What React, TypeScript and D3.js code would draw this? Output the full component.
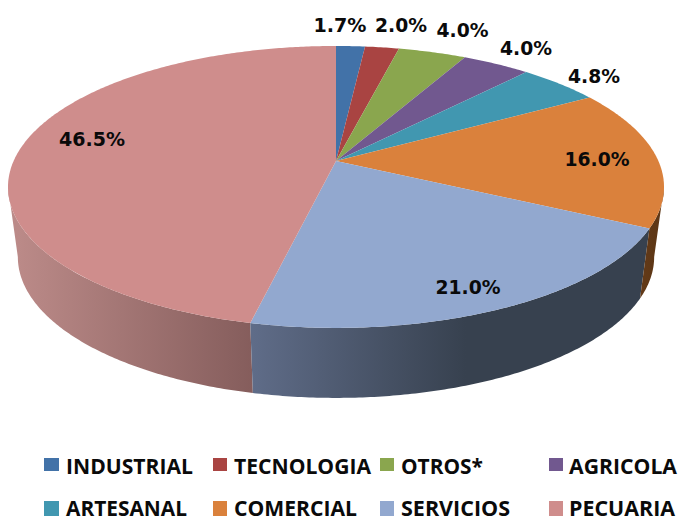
import React from "react";
import * as d3 from "d3";

const categories = ["INDUSTRIAL", "TECNOLOGIA", "OTROS*", "AGRICOLA", "ARTESANAL", "COMERCIAL", "SERVICIOS", "PECUARIA"];
const values = [1.7, 2.0, 4.0, 4.0, 4.8, 16.0, 21.0, 46.5];
const colors = ["#4272a8", "#a94442", "#8aa64e", "#71588f", "#4197b0", "#da813c", "#92a8cf", "#cf8d8c"];
const sideStops = [
  ["#2e4f75", "#2e4f75"], ["#763030", "#763030"], ["#607436", "#607436"], ["#4f3d64", "#4f3d64"],
  ["#2d697b", "#2d697b"], ["#5e3716", "#643a18"], ["#5f6c88", "#37414f"], ["#bb8a88", "#855d5c"],
];
const labelPos = [[340, 32], [401, 32], [462.5, 37], [526, 55], [594, 83], [597, 166], [468, 294], [92, 146]];
const labelWidth = [53, 52, 52, 52, 52, 65, 65, 66];
const legendX = [44, 213, 380, 549];
const legendTextX = [66, 234, 401, 569];
const legendBaseline = [474, 516];
const legendRectY = [458, 501];
const legendRectH = [13, 15];
const legendTextW = [127, 137, 82, 108, 121, 123, 109, 106];

const W = 679, H = 519;
const cx = 336, cy = 161, B = 322.4, A = 136.2, p = 0.184, depth = 70, shrink = 0.97;

const topPoint = (t: number): [number, number] => {
  const u = Math.sin(t), v = -Math.cos(t), w = 1 - p * v;
  return [cx + (B * u) / w, cy + (A * v) / w];
};
const botPoint = (t: number): [number, number] => {
  const [x, y] = topPoint(t);
  return [cx + (x - cx) * shrink, y + depth];
};
const sample = (a: number, b: number) => {
  const n = Math.max(2, Math.ceil(Math.abs(b - a) / 0.01));
  return d3.range(n + 1).map((i) => a + ((b - a) * i) / n);
};

export default function App() {
  const arcs = d3.pie<number>().sort(null)(values);
  const line = d3.line();
  const tau = 2 * Math.PI;
  const order = [7, 6, 5];
  const edge = Math.acos(-p);
  return (
    <svg width={W} height={H} style={{ position: "absolute", left: 0, top: 0, background: "#fff" }}>
      <defs>
        {order.map((i) => {
          const a = arcs[i];
          const s0 = Math.max(a.startAngle, edge), s1 = Math.min(a.endAngle, tau - edge);
          const xs = sample(s0, s1).map((t) => botPoint(t)[0]);
          const x0 = i === 7 ? d3.min(xs)! : d3.max(xs)!;
          const x1 = i === 7 ? d3.max(xs)! : d3.min(xs)!;
          return (
            <linearGradient key={i} id={`side${i}`} gradientUnits="userSpaceOnUse" x1={x0} x2={x1} y1={0} y2={0}>
              {i === 6 ? (
                <>
                  <stop offset="0" stopColor={sideStops[i][1]} />
                  <stop offset="0.45" stopColor={sideStops[i][1]} />
                  <stop offset="1" stopColor={sideStops[i][0]} />
                </>
              ) : (
                <>
                  <stop offset="0" stopColor={sideStops[i][0]} />
                  <stop offset="1" stopColor={sideStops[i][1]} />
                </>
              )}
            </linearGradient>
          );
        })}
      </defs>
      {order.map((i) => {
        const a = arcs[i];
        const s0 = Math.max(a.startAngle, edge), s1 = Math.min(a.endAngle, tau - edge);
        const ts = sample(s0, s1);
        const pts = [...ts.map(topPoint), ...ts.slice().reverse().map(botPoint)];
        return <path key={i} d={line(pts)! + "Z"} fill={`url(#side${i})`} />;
      })}
      {arcs.map((a, i) => {
        const ts = sample(a.startAngle, Math.min(a.endAngle, tau));
        const pts: [number, number][] = [[cx, cy], ...ts.map(topPoint)];
        return <path key={i} d={line(pts)! + "Z"} fill={colors[i]} />;
      })}
      {values.map((v, i) => (
        <text key={i} x={labelPos[i][0] - labelWidth[i] / 2} y={labelPos[i][1]}
          fontFamily="'DejaVu Sans'" fontWeight={700} fontSize={19.5} fill="#0a0a0a"
          textLength={labelWidth[i]} lengthAdjust="spacingAndGlyphs">
          {v.toFixed(1)}%
        </text>
      ))}
      {categories.map((c, i) => {
        const col = i % 4, row = Math.floor(i / 4);
        return (
          <g key={c}>
            <rect x={legendX[col]} y={legendRectY[row]} width={col === 0 ? 15 : 14} height={legendRectH[row]} fill={colors[i]} />
            <text x={legendTextX[col]} y={legendBaseline[row]} fontFamily="'Open Sans'" fontWeight={700} fontSize={20.5}
              textLength={legendTextW[i]} lengthAdjust="spacingAndGlyphs" fill="#0a0a0a">
              {c}
            </text>
          </g>
        );
      })}
    </svg>
  );
}
